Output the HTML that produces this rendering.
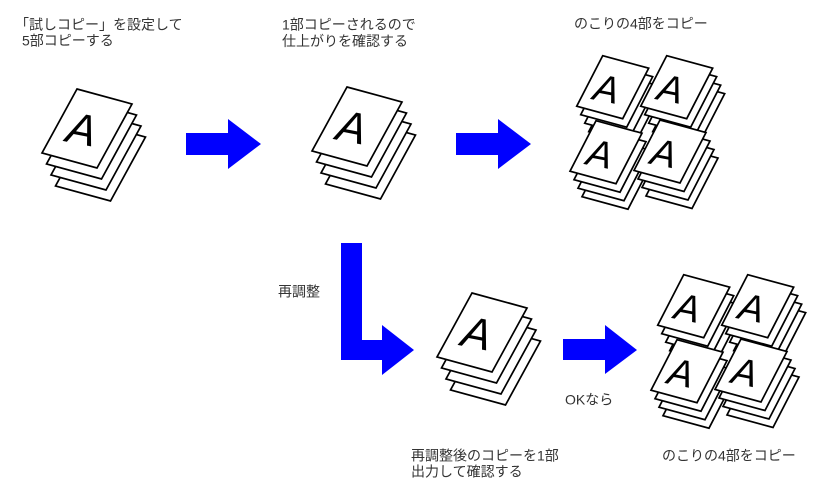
<!DOCTYPE html>
<html>
<head>
<meta charset="utf-8">
<style>
  html,body{margin:0;padding:0;background:#fff;}
  svg{display:block;}
  .t{font-family:"Liberation Sans","Noto Sans CJK JP",sans-serif;font-size:14px;fill:#333;}
  .a{font-family:"Liberation Sans",sans-serif;font-style:italic;fill:#000;}
  polygon.s{fill:#fff;stroke:#000;stroke-width:1.7;stroke-linejoin:miter;}
  polygon.b{fill:#0000ff;}
</style>
</head>
<body>
<svg width="814" height="494" viewBox="0 0 814 494" xmlns="http://www.w3.org/2000/svg">

  <!-- Labels -->
  <text class="t" x="15" y="29.5">「試しコピー」を設定して</text>
  <text class="t" x="22" y="45.5">5部コピーする</text>

  <text class="t" x="282" y="29.5">1部コピーされるので</text>
  <text class="t" x="282" y="46">仕上がりを確認する</text>

  <text class="t" x="574" y="28.5">のこりの4部をコピー</text>

  <text class="t" x="278" y="296.5">再調整</text>

  <text class="t" x="565" y="404.5">OKなら</text>

  <text class="t" x="411" y="460.5">再調整後のコピーを1部</text>
  <text class="t" x="411" y="476.5">出力して確認する</text>

  <text class="t" x="662" y="460.5">のこりの4部をコピー</text>

  <!-- Arrows -->
  <polygon class="b" points="186,133 228,133 228,119 261,144 228,169 228,155 186,155"/>
  <polygon class="b" points="456,133 498,133 498,119 531,144 498,169 498,155 456,155"/>
  <polygon class="b" points="563,339 605,339 605,325 637,350 605,374 605,360 563,360"/>
  <polygon class="b" points="341,243 362,243 362,340 382,340 382,325 414,350 382,375 382,360 341,360"/>

  <!-- Big stack 1 -->
  <g transform="translate(77,89)">
    <polygon class="s" points="13.5,33 68.5,48 33.5,112 -21.5,97"/>
    <polygon class="s" points="9,22 64,37 29,101 -26,86"/>
    <polygon class="s" points="4.5,11 59.5,26 24.5,90 -30.5,75"/>
    <polygon class="s" points="0,0 55,15 20,79 -35,64"/>
    <text class="a" x="2" y="55" font-size="44" text-anchor="middle" transform="rotate(11 2 55)">A</text>
  </g>

  <!-- Big stack 2 -->
  <g transform="translate(347,87)">
    <polygon class="s" points="13.5,33 68.5,48 33.5,112 -21.5,97"/>
    <polygon class="s" points="9,22 64,37 29,101 -26,86"/>
    <polygon class="s" points="4.5,11 59.5,26 24.5,90 -30.5,75"/>
    <polygon class="s" points="0,0 55,15 20,79 -35,64"/>
    <text class="a" x="2" y="55" font-size="44" text-anchor="middle" transform="rotate(11 2 55)">A</text>
  </g>

  <!-- Big stack 3 -->
  <g transform="translate(472,293)">
    <polygon class="s" points="13.5,33 68.5,48 33.5,112 -21.5,97"/>
    <polygon class="s" points="9,22 64,37 29,101 -26,86"/>
    <polygon class="s" points="4.5,11 59.5,26 24.5,90 -30.5,75"/>
    <polygon class="s" points="0,0 55,15 20,79 -35,64"/>
    <text class="a" x="2" y="55" font-size="44" text-anchor="middle" transform="rotate(11 2 55)">A</text>
  </g>

  <!-- Top-right group of four stacks -->
  <g transform="translate(602.7,55.7)">
    <polygon class="s" points="12,25.5 58,38 32,88.5 -14,76"/>
    <polygon class="s" points="8,17 54,29.5 28,80 -18,67.5"/>
    <polygon class="s" points="4,8.5 50,21 24,71.5 -22,59"/>
    <polygon class="s" points="0,0 46,12.5 20,63 -26,50.5"/>
    <text class="a" x="1.5" y="46" font-size="38" text-anchor="middle" transform="rotate(11 1.5 46)">A</text>
  </g>
  <g transform="translate(666.7,55.7)">
    <polygon class="s" points="12,25.5 58,38 32,88.5 -14,76"/>
    <polygon class="s" points="8,17 54,29.5 28,80 -18,67.5"/>
    <polygon class="s" points="4,8.5 50,21 24,71.5 -22,59"/>
    <polygon class="s" points="0,0 46,12.5 20,63 -26,50.5"/>
    <text class="a" x="1.5" y="46" font-size="38" text-anchor="middle" transform="rotate(11 1.5 46)">A</text>
  </g>
  <g transform="translate(596,120.7)">
    <polygon class="s" points="12,25.5 58,38 32,88.5 -14,76"/>
    <polygon class="s" points="8,17 54,29.5 28,80 -18,67.5"/>
    <polygon class="s" points="4,8.5 50,21 24,71.5 -22,59"/>
    <polygon class="s" points="0,0 46,12.5 20,63 -26,50.5"/>
    <text class="a" x="1.5" y="46" font-size="38" text-anchor="middle" transform="rotate(11 1.5 46)">A</text>
  </g>
  <g transform="translate(660,120)">
    <polygon class="s" points="12,25.5 58,38 32,88.5 -14,76"/>
    <polygon class="s" points="8,17 54,29.5 28,80 -18,67.5"/>
    <polygon class="s" points="4,8.5 50,21 24,71.5 -22,59"/>
    <polygon class="s" points="0,0 46,12.5 20,63 -26,50.5"/>
    <text class="a" x="1.5" y="46" font-size="38" text-anchor="middle" transform="rotate(11 1.5 46)">A</text>
  </g>

  <!-- Bottom-right group of four stacks -->
  <g transform="translate(683.7,274.7)">
    <polygon class="s" points="12,25.5 58,38 32,88.5 -14,76"/>
    <polygon class="s" points="8,17 54,29.5 28,80 -18,67.5"/>
    <polygon class="s" points="4,8.5 50,21 24,71.5 -22,59"/>
    <polygon class="s" points="0,0 46,12.5 20,63 -26,50.5"/>
    <text class="a" x="1.5" y="46" font-size="38" text-anchor="middle" transform="rotate(11 1.5 46)">A</text>
  </g>
  <g transform="translate(747.7,274.7)">
    <polygon class="s" points="12,25.5 58,38 32,88.5 -14,76"/>
    <polygon class="s" points="8,17 54,29.5 28,80 -18,67.5"/>
    <polygon class="s" points="4,8.5 50,21 24,71.5 -22,59"/>
    <polygon class="s" points="0,0 46,12.5 20,63 -26,50.5"/>
    <text class="a" x="1.5" y="46" font-size="38" text-anchor="middle" transform="rotate(11 1.5 46)">A</text>
  </g>
  <g transform="translate(677,339.7)">
    <polygon class="s" points="12,25.5 58,38 32,88.5 -14,76"/>
    <polygon class="s" points="8,17 54,29.5 28,80 -18,67.5"/>
    <polygon class="s" points="4,8.5 50,21 24,71.5 -22,59"/>
    <polygon class="s" points="0,0 46,12.5 20,63 -26,50.5"/>
    <text class="a" x="1.5" y="46" font-size="38" text-anchor="middle" transform="rotate(11 1.5 46)">A</text>
  </g>
  <g transform="translate(741,339)">
    <polygon class="s" points="12,25.5 58,38 32,88.5 -14,76"/>
    <polygon class="s" points="8,17 54,29.5 28,80 -18,67.5"/>
    <polygon class="s" points="4,8.5 50,21 24,71.5 -22,59"/>
    <polygon class="s" points="0,0 46,12.5 20,63 -26,50.5"/>
    <text class="a" x="1.5" y="46" font-size="38" text-anchor="middle" transform="rotate(11 1.5 46)">A</text>
  </g>

</svg>
</body>
</html>
